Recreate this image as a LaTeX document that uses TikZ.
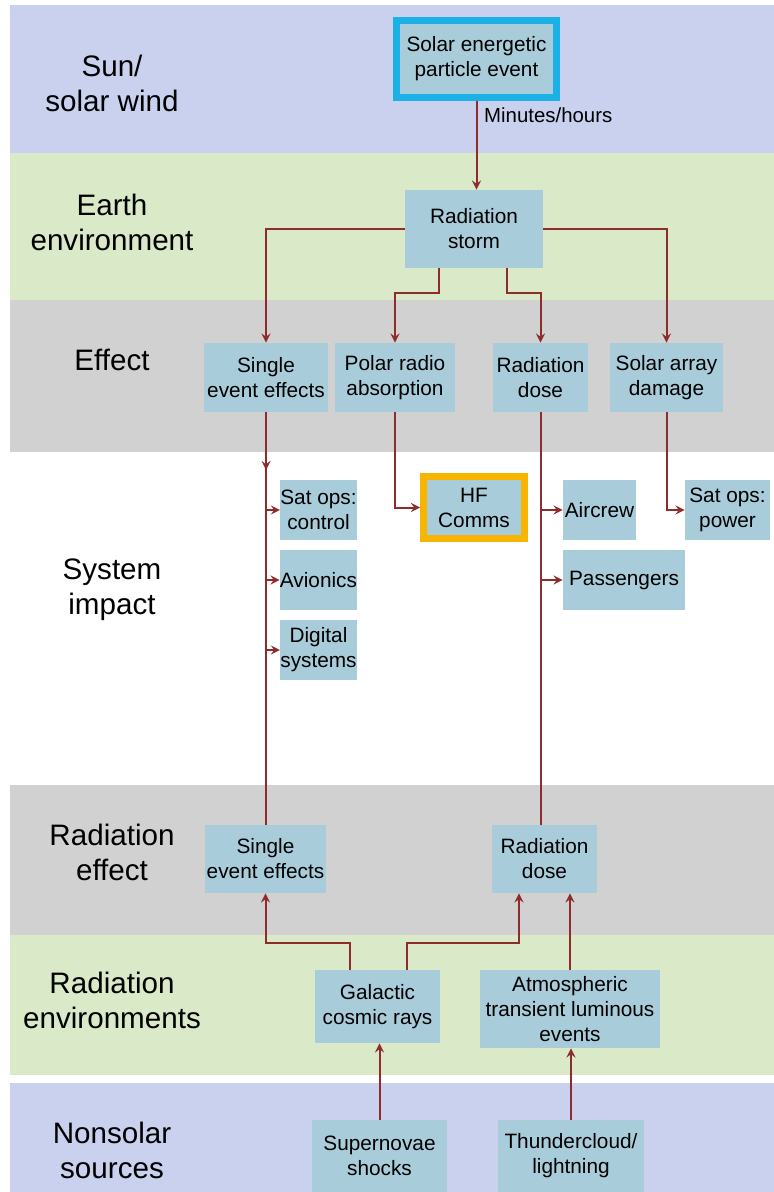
\documentclass[tikz,border=0pt]{standalone}
\usepackage{fontspec}
\setmainfont{Liberation Sans}
\definecolor{bandblue}{HTML}{C9D1EF}
\definecolor{bandgreen}{HTML}{DAE9C7}
\definecolor{bandgrey}{HTML}{D1D1D1}
\definecolor{boxblue}{HTML}{A9CCDA}
\definecolor{linkred}{HTML}{8E2B2B}
\definecolor{hilite}{HTML}{1BB0E6}
\definecolor{hfgold}{HTML}{F7B500}
\tikzset{
  box/.style={fill=boxblue,align=center,inner sep=0pt,font=\fontsize{10.4}{12.5}\selectfont},
  rowlabel/.style={align=center,font=\fontsize{14.8}{17.5}\selectfont},
  wire/.style={draw=linkred,line width=1pt},
  link/.style={wire,->},
}
\begin{document}
\begin{tikzpicture}[>=stealth,x=0.5pt,y=-0.5pt]
\useasboundingbox (0,0) rectangle (774,1192);
% bands
\fill[bandblue](10,5) rectangle (774,153);
\fill[bandgreen](10,153) rectangle (774,300);
\fill[bandgrey](10,300) rectangle (774,452);
\fill[bandgrey](10,785) rectangle (774,935);
\fill[bandgreen](10,935) rectangle (774,1075);
\fill[bandblue](10,1083) rectangle (774,1192);

\node[rowlabel] (sun) at (112,83) {Sun/\\solar wind};
\node[rowlabel] (earth) at (112,222) {Earth\\environment};
\node[rowlabel] (effect) at (112,360) {Effect};
\node[rowlabel] (impact) at (112,590) {System\\impact};
\node[rowlabel] (radeff) at (112,852) {Radiation\\effect};
\node[rowlabel] (radenv) at (112,1000) {Radiation\\environments};
\node[rowlabel] (nonsolar) at (112,1150) {Nonsolar\\sources};

% boxes
\node[box,draw=hilite,line width=3.5pt,minimum width=80pt,minimum height=38.5pt] (sep) at (476.5,59) {Solar energetic\\particle event};
\node[box,minimum width=69pt,minimum height=39pt] (storm) at (474,229) {Radiation\\storm};
\node[box,minimum width=62pt,minimum height=34.5pt] (see1) at (266,377.5) {Single\\event effects};
\node[box,minimum width=60pt,minimum height=34.5pt] (polar) at (395,377.5) {Polar radio\\absorption};
\node[box,minimum width=47.5pt,minimum height=34.5pt] (dose1) at (540.5,377.5) {Radiation\\dose};
\node[box,minimum width=56.5pt,minimum height=34.5pt] (array) at (666.5,377.5) {Solar array\\damage};
\node[box,minimum width=37.5pt,minimum height=30pt] (satctl) at (318.5,510) {Sat ops:\\control};
\node[box,minimum width=37.5pt,minimum height=30pt] (avion) at (318.5,580) {Avionics};
\node[box,minimum width=37.5pt,minimum height=30pt] (digital) at (318.5,650) {Digital\\systems};
\node[box,draw=hfgold,line width=3.5pt,minimum width=50.5pt,minimum height=31pt] (hf) at (474,507.5) {HF\\Comms};
\node[box,minimum width=36.5pt,minimum height=30pt] (aircrew) at (599.5,510) {Aircrew};
\node[box,minimum width=61pt,minimum height=30pt] (pass) at (624,580) {Passengers};
\node[box,minimum width=42.5pt,minimum height=30pt] (satpow) at (727.5,510) {Sat ops:\\power};
\node[box,minimum width=60.5pt,minimum height=34pt] (see2) at (265.5,859) {Single\\event effects};
\node[box,minimum width=52.5pt,minimum height=34pt] (dose2) at (544.5,859) {Radiation\\dose};
\node[box,minimum width=62.5pt,minimum height=36.5pt] (gcr) at (377.5,1006.5) {Galactic\\cosmic rays};
\node[box,minimum width=90pt,minimum height=39pt] (atle) at (570,1009) {Atmospheric\\transient luminous\\events};
\node[box,minimum width=67.5pt,minimum height=36pt] (sn) at (379.5,1156) {Supernovae\\shocks};
\node[box,minimum width=73pt,minimum height=36pt] (tc) at (571,1156) {Thundercloud/\\lightning};

% solar side
\draw[link](sep.south)--node[pos=.16,right,font=\fontsize{10.2}{12}\selectfont]{Minutes/hours}(sep.south|-storm.north);
\draw[link](storm.west)-|(see1.north);
\draw[link](storm.east)-|(array.north);
\draw[link]([xshift=-17.5pt]storm.south)--++(0,25)-|(polar.north);
\draw[link]([xshift=16.5pt]storm.south)--++(0,25)-|(dose1.north);

% system impacts
\draw[wire](see1.south)--(see1.south|-see2.north);
\draw[link](see1.south)--(see1.south|-0,470);
\draw[link](satctl.west-|see1.south)--(satctl.west);
\draw[link](avion.west-|see1.south)--(avion.west);
\draw[link](digital.west-|see1.south)--(digital.west);
\draw[link](polar.south)|-(hf.west);
\draw[wire](dose1.south)--(dose1.south|-dose2.north);
\draw[link](aircrew.west-|dose1.south)--(aircrew.west);
\draw[link](pass.west-|dose1.south)--(pass.west);
\draw[link](array.south)|-(satpow.west);

% nonsolar side
\draw[link]([xshift=-13.75pt]gcr.north)--++(0,-27)-|(see2.south);
\draw[link]([xshift=14.75pt]gcr.north)--++(0,-27)-|([xshift=-12.75pt]dose2.south);
\draw[link](atle.north)--(atle.north|-dose2.south);
\draw[link](sn.north)--(sn.north|-gcr.south);
\draw[link](tc.north)--(tc.north|-atle.south);
\end{tikzpicture}
\end{document}
